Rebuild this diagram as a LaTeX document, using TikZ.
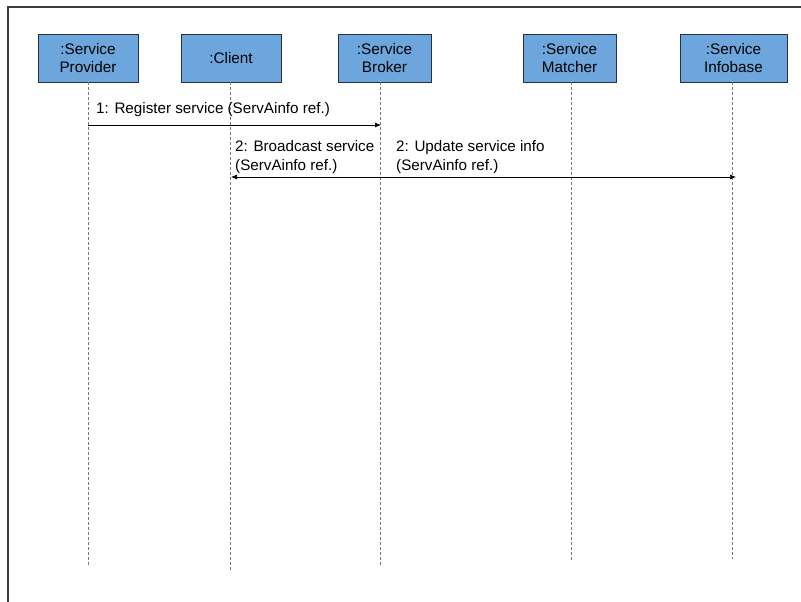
\documentclass[tikz,border=0pt]{standalone}
\usepackage{fontspec}
\setmainfont{Liberation Sans}
\usetikzlibrary{arrows.meta}
\definecolor{boxfill}{RGB}{108,166,220}
\definecolor{boxline}{RGB}{40,48,70}
\definecolor{frameline}{RGB}{60,60,60}
\definecolor{lifegray}{RGB}{120,120,120}
\tikzset{
  x=1pt, y=-1pt,
  objbox/.style={draw=boxline, line width=0.9pt, fill=boxfill, minimum height=48pt,
    inner sep=0pt, align=center, font=\fontsize{15.3}{17.5}\selectfont},
  lifeline/.style={draw=lifegray, dashed, dash pattern=on 3pt off 2pt, line width=0.8pt},
  msg/.style={draw=black, line width=0.7pt},
  tip/.style={-{Latex[length=6pt,width=5pt]}},
  msglabel/.style={anchor=west, align=left, inner sep=0pt, font=\fontsize{15.2}{19}\selectfont}
}
\begin{document}
\begin{tikzpicture}
\useasboundingbox (0,0) rectangle (801,602);
\fill[white] (0,0) rectangle (801,602);
% outer frame (top and left edges)
\draw[frameline, line width=1.6pt] (8,602) -- (8,7) -- (801,7);

% participants
\node[objbox, minimum width=100pt] (prov) at (88,58) {:Service\\Provider};
\node[objbox, minimum width=100pt] (client) at (231,58) {:Client};
\node[objbox, minimum width=93pt] (broker) at (384.5,58) {:Service\\Broker};
\node[objbox, minimum width=93pt] (matcher) at (569.5,58) {:Service\\Matcher};
\node[objbox, minimum width=107pt] (info) at (733.5,58) {:Service\\Infobase};

% lifeline ends
\coordinate (provEnd) at (88,566);
\coordinate (clientEnd) at (230,572);
\coordinate (brokerEnd) at (380,566);
\coordinate (matcherEnd) at (571,560);
\coordinate (infoEnd) at (732,559);

\draw[lifeline] (88,82) -- (provEnd);
\draw[lifeline] (230,82) -- (clientEnd);
\draw[lifeline] (380,82) -- (brokerEnd);
\draw[lifeline] (571,82) -- (matcherEnd);
\draw[lifeline] (732,82) -- (infoEnd);

% message end points on the lifelines
\coordinate (m1s) at (88,125);
\coordinate (m1e) at (381,125);
\coordinate (m2c) at (231,177);
\coordinate (m2i) at (736,177);

\draw[msg, tip] (m1s) -- (m1e);
\draw[msg, {Latex[length=6pt,width=5pt]}-{Latex[length=6pt,width=5pt]}] (m2c) -- (m2i);

\node[msglabel] (l1) at (96,110) {1: Register service (ServAinfo ref.)};
\node[msglabel] (l2) at (235,157.5) {2: Broadcast service\\(ServAinfo ref.)};
\node[msglabel] (l3) at (396,157.5) {2: Update service info\\(ServAinfo ref.)};
\end{tikzpicture}
\end{document}
